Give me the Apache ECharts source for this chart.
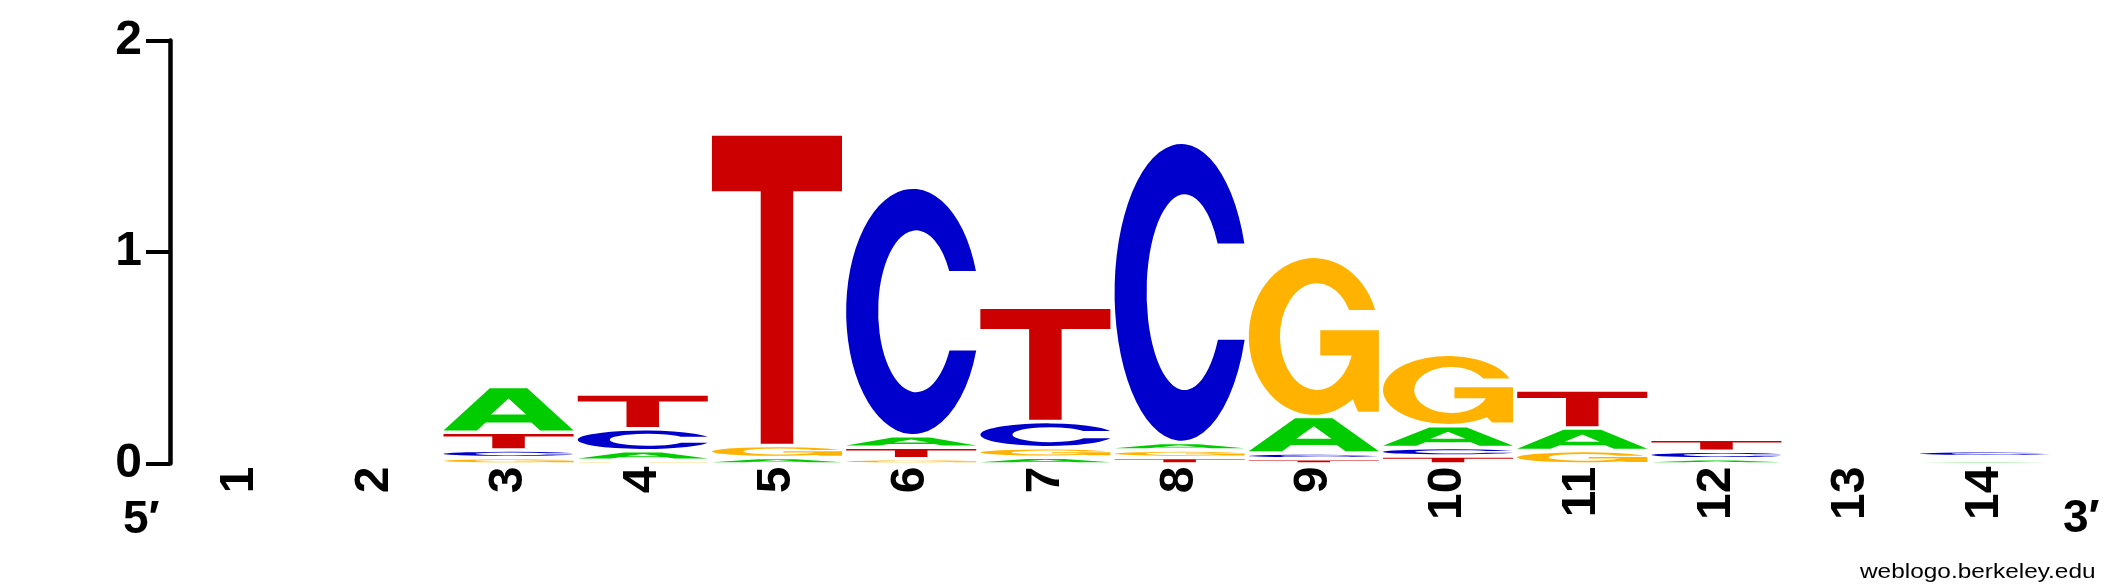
<!DOCTYPE html>
<html>
<head>
<meta charset="utf-8">
<script src="https://cdn.jsdelivr.net/npm/echarts@6/dist/echarts.min.js"></script>
<style>
  html, body { margin: 0; padding: 0; background: #fff; }
  #chart { width: 2125px; height: 588px; }
</style>
</head>
<body>
<div id="chart"></div>
<script>
// ---- data (bits of each nucleotide at each position) ----
const positions = ['1','2','3','4','5','6','7','8','9','10','11','12','13','14'];
const bitsA = [0, 0, 0.199, 0.028, 0.014, 0.038, 0.016, 0.019, 0.156, 0.087, 0.090, 0.008, 0, 0.001];
const bitsC = [0, 0, 0.019, 0.087, 0,     1.159, 0.107, 1.403, 0.011, 0.024, 0,     0.020, 0, 0.011];
const bitsG = [0, 0, 0.014, 0.002, 0.041, 0.009, 0.028, 0.018, 0.741, 0.321, 0.047, 0,     0, 0.001];
const bitsT = [0, 0, 0.068, 0.148, 1.456, 0.037, 0.524, 0.015, 0.008, 0.021, 0.164, 0.040, 0, 0];
const yTicks = [0, 1, 2];

const letters = ['A', 'C', 'G', 'T'];
const bitsOf = { A: bitsA, C: bitsC, G: bitsG, T: bitsT };
const colors = { A: '#00CC00', C: '#0000CC', G: '#FFB300', T: '#CC0000' };

// glyph outlines (Helvetica-Bold-like), stretched to each letter's box
const glyphs = {
  A: 'M0,100 L35.6,0 L64.4,0 L100,100 L74.4,100 L67.6,81 L32.4,81 L25.6,100 Z M36.5,62 L63.5,62 L50,24 Z',
  C: 'M97.2,33.6 A50,50 0 1 0 97.4,66 L77.4,66 A28.5,33 0 1 1 77.2,33.6 Z',
  G: 'M97.2,33 A50,50 0 1 0 80,90 L84,98 L100,98 L100,46 L55,46 L55,62 L79.2,62 A28.5,34 0 1 1 77.2,33 Z',
  T: 'M0,0 L100,0 L100,18 L62.5,18 L62.5,100 L37.5,100 L37.5,18 L0,18 Z'
};

const GAP = 3.5;        // px between stacked letters
const BASE_LIFT = 1.2;  // px above the zero line
const WIDTH_FRAC = 0.969;

function columnOrder(i) {
  return letters
    .map((l, k) => ({ l: l, k: k, v: bitsOf[l][i] }))
    .filter(d => d.v > 0)
    .sort((a, b) => (a.v - b.v) || (a.k - b.k));
}

function makeRender(letter) {
  return function (params, api) {
    const i = api.value(0);
    const v = api.value(1);
    const order = columnOrder(i);
    const zero = api.coord([i, 0]);
    let y = zero[1] - BASE_LIFT;
    for (const d of order) {
      if (d.l === letter) break;
      y -= api.size([0, d.v])[1] + GAP;
    }
    const h = api.size([0, v])[1];
    const w = api.size([1, 0])[0] * WIDTH_FRAC;
    return {
      type: 'path',
      shape: {
        pathData: glyphs[letter],
        x: zero[0] - w / 2,
        y: y - h,
        width: w,
        height: h,
        layout: 'cover'
      },
      style: { fill: colors[letter] }
    };
  };
}

const chart = echarts.init(document.getElementById('chart'), null, { renderer: 'canvas' });

const FONT = 'Liberation Sans, Arial, Helvetica, sans-serif';

chart.setOption({
  animation: false,
  backgroundColor: '#ffffff',
  grid: { left: 173, right: 73, top: 40.5, bottom: 124.5, containLabel: false },
  xAxis: {
    type: 'category',
    data: positions,
    boundaryGap: true,
    axisLine: { show: false },
    axisTick: { show: false },
    splitLine: { show: false },
    axisLabel: {
      rotate: 90,
      margin: 3,
      interval: 0,
      color: '#000',
      fontFamily: FONT,
      fontWeight: 'bold',
      fontSize: 48
    }
  },
  yAxis: {
    type: 'value',
    min: yTicks[0],
    max: yTicks[yTicks.length - 1],
    interval: 1,
    offset: 3,
    axisLine: { show: true, lineStyle: { color: '#000', width: 4.5 } },
    axisTick: { show: true, length: 24, lineStyle: { color: '#000', width: 4 } },
    splitLine: { show: false },
    axisLabel: {
      margin: 28,
      color: '#000',
      fontFamily: FONT,
      fontWeight: 'bold',
      fontSize: 48
    }
  },
  series: letters.map(l => ({
    type: 'custom',
    name: l,
    clip: false,
    renderItem: makeRender(l),
    data: positions.map((p, i) => [i, bitsOf[l][i]]).filter(d => d[1] > 0)
  })),
  graphic: [
    {
      type: 'text', x: 123, y: 520,
      style: { text: '5\u2032', fill: '#000', font: 'bold 46px ' + FONT, verticalAlign: 'middle', align: 'left' }
    },
    {
      type: 'text', x: 2063, y: 519,
      style: { text: '3\u2032', fill: '#000', font: 'bold 46px ' + FONT, verticalAlign: 'middle', align: 'left' }
    },
    {
      type: 'text', x: 1860, y: 572, scaleX: 1.22,
      style: { text: 'weblogo.berkeley.edu', fill: '#000', font: '20px ' + FONT, verticalAlign: 'middle', align: 'left' }
    }
  ]
});
</script>
</body>
</html>
